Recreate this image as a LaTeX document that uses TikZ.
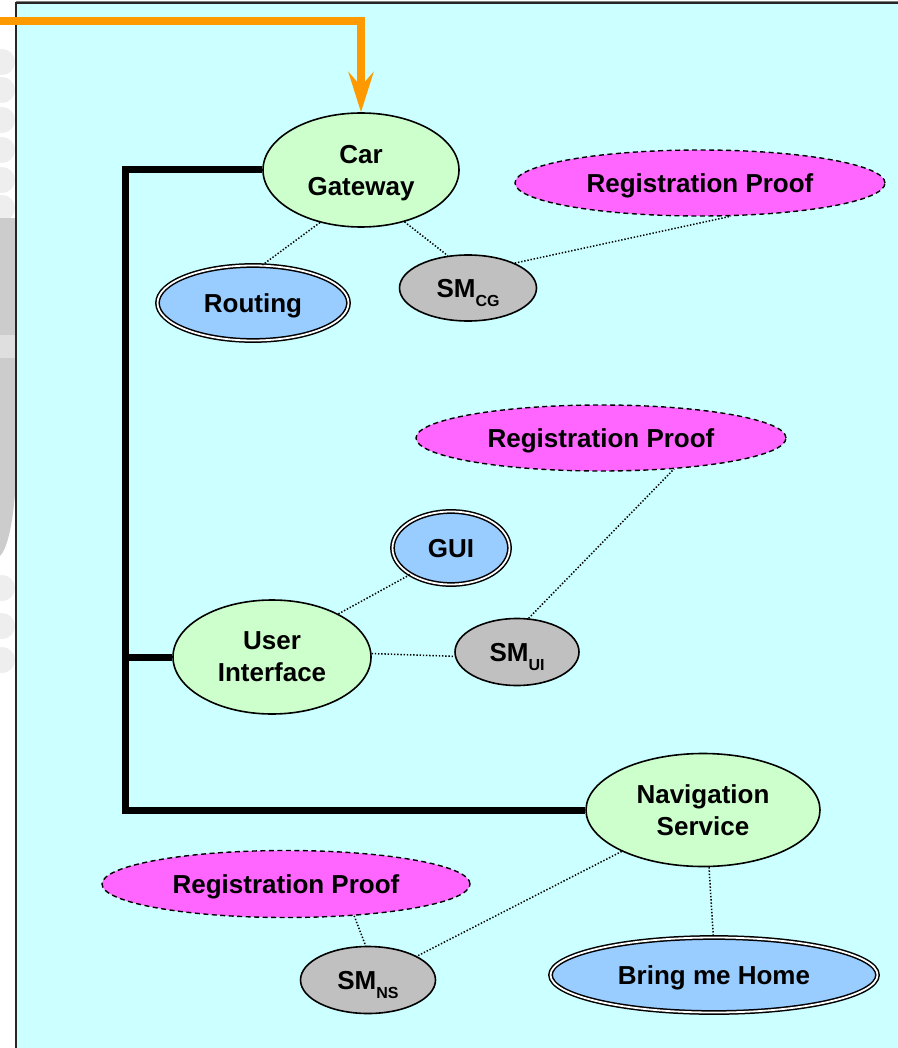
\documentclass[tikz,border=0pt]{standalone}
\usepackage{fontspec}
\setmainfont{Liberation Sans}
\usetikzlibrary{shapes.geometric,arrows.meta}

\definecolor{panel}{HTML}{CCFFFF}
\definecolor{compgreen}{HTML}{CCFFCC}
\definecolor{proofpink}{HTML}{FF66FF}
\definecolor{featblue}{HTML}{99CCFF}
\definecolor{smgray}{HTML}{C0C0C0}
\definecolor{feedorange}{HTML}{FF9900}
\definecolor{decolight}{HTML}{EEEEEE}
\definecolor{decomid}{HTML}{DFDFDF}
\definecolor{decodark}{HTML}{CCCCCC}

\newcommand\smlabel[1]{SM\raisebox{-9pt}{\fontsize{16}{16}\selectfont #1}}

\tikzset{
  lbl/.style={font=\bfseries\fontsize{26}{32}\selectfont, align=center,
              inner sep=0pt, text depth=0pt},
  component/.style={lbl, ellipse, draw=black, line width=1.6pt, fill=compgreen},
  proof/.style={lbl, ellipse, draw=black, line width=1.4pt, fill=proofpink,
                dash pattern=on 5pt off 3.5pt},
  feature/.style={lbl, ellipse, draw=black, line width=1.5pt, fill=featblue,
                  double=white, double distance=1.8pt},
  secmod/.style={lbl, ellipse, draw=black, line width=1.6pt, fill=smgray},
  link/.style={draw=black, line width=1.5pt, dash pattern=on 1.4pt off 1.8pt},
  bus/.style={draw=black, line width=7pt, line join=miter},
  feed/.style={draw=feedorange, line width=7.5pt, line join=miter,
               -{Stealth[length=40pt,width=25pt,inset=14pt]}},
}

\begin{document}
\begin{tikzpicture}[x=1pt,y=-1pt]
\useasboundingbox (0,0) rectangle (897,1048);
\fill[white] (0,0) rectangle (897,1048);

% decorative margin strip
\begin{scope}
  \clip (0,0) rectangle (16,1048);
  \foreach \yy in {62,90,120,150,180,208} \fill[decolight] (2,\yy) circle (13);
  \fill[decodark] (0,218) rectangle (16,335);
  \fill[decomid] (0,335) rectangle (16,360);
  \fill[decodark] (0,358) -- (16,358) -- (16,480)
        .. controls (13,530) and (6,550) .. (0,556) -- cycle;
  \foreach \yy in {588,626,660} \fill[decolight] (2,\yy) circle (13);
\end{scope}

% panel
\fill[panel] (16,3.5) rectangle (910,1060);
\draw[gray, line width=1pt] (16,1.8) -- (910,1.8);
\draw[black!85, line width=2pt] (16,1060) -- (16,3.5) -- (910,3.5);

% nodes
\node[component, minimum width=196pt, minimum height=114pt] (cg) at (361,170) {Car\\Gateway};
\node[proof, minimum width=370pt, minimum height=66pt] (rp1) at (700,183) {Registration Proof};
\node[feature, minimum width=191pt, minimum height=75pt] (rt) at (253,303) {Routing};
\node[secmod, minimum width=137pt, minimum height=66pt] (smcg) at (468,288) {\smlabel{CG}};

\node[proof, minimum width=370pt, minimum height=66pt] (rp2) at (601,438) {Registration Proof};
\node[feature, minimum width=117pt, minimum height=73pt] (gui) at (451,548) {GUI};
\node[component, minimum width=198pt, minimum height=114pt] (ui) at (272,657) {User\\Interface};
\node[secmod, minimum width=124pt, minimum height=67pt] (smui) at (517,652) {\smlabel{UI}};

\node[component, minimum width=234pt, minimum height=113pt] (ns) at (703,810) {Navigation\\Service};
\node[proof, minimum width=368pt, minimum height=67pt] (rp3) at (286,884) {Registration Proof};
\node[secmod, minimum width=135pt, minimum height=67pt] (smns) at (368,980) {\smlabel{NS}};
\node[feature, minimum width=327pt, minimum height=75pt] (bmh) at (714,975) {Bring me Home};

% bus
\coordinate (busx) at (125,0);
\draw[bus] (cg.west) -| (busx |- ns.west) -- (ns.west);
\draw[bus] (busx |- ui.west) -- (ui.west);

% incoming feed
\coordinate (feedsrc) at (0,21);
\draw[feed] (feedsrc) -| (cg.north);

% dotted associations
\draw[link] (cg.232) -- (rt.76);
\draw[link] (cg.310) -- (smcg.122);
\draw[link] (smcg.28) -- (rp1.313);
\draw[link] (gui.213) -- (ui.33);
\draw[link] (ui.2) -- (smui.184);
\draw[link] (smui.71) -- (rp2.337);
\draw[link] (ns.207) -- (smns.26);
\draw[link] (rp3.335) -- (smns.94);
\draw[link] (ns.276) -- (bmh.91);
\end{tikzpicture}
\end{document}
